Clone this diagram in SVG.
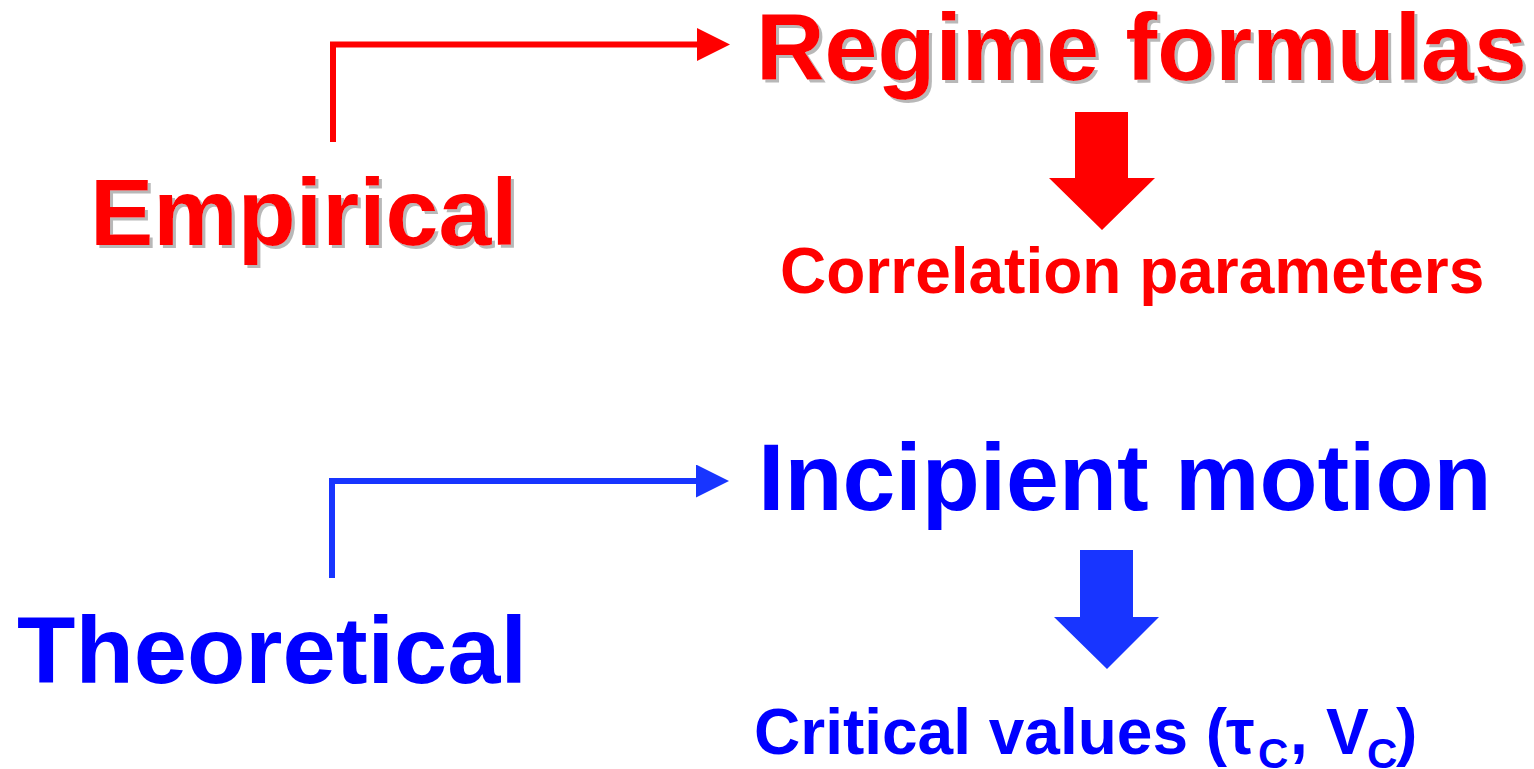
<svg xmlns="http://www.w3.org/2000/svg" width="1534" height="769" viewBox="0 0 1534 769">
<style>
.t{font-family:"Liberation Sans",Arial,sans-serif;font-weight:bold}
.red{fill:#FF0000}
.blue{fill:#0000FF}
.big{font-size:95px}
.mid{font-size:64px}
.sub{font-size:42px}
.cr{fill:none;stroke:#FF0000;stroke-width:6}
.cb{fill:none;stroke:#1835FF;stroke-width:6}
</style>
<defs>
<filter id="sh" x="-5%" y="-20%" width="115%" height="150%">
<feDropShadow dx="3" dy="3" stdDeviation="0.6" flood-color="#9a9a9a" flood-opacity="0.7"/>
</filter>
<marker id="ar" markerUnits="userSpaceOnUse" markerWidth="34" markerHeight="34" refX="0" refY="16.5" orient="auto" viewBox="0 0 34 34">
<path d="M0,0 L33,16.5 L0,33 z" fill="#FF0000"/>
</marker>
<marker id="ab" markerUnits="userSpaceOnUse" markerWidth="34" markerHeight="34" refX="0" refY="16.5" orient="auto" viewBox="0 0 34 34">
<path d="M0,0 L33,16.5 L0,33 z" fill="#1835FF"/>
</marker>
</defs>
<g id="connectors">
<path class="cr" d="M333,142 V44.5 H697" marker-end="url(#ar)"/>
<path class="cb" d="M332,578 V481 H696" marker-end="url(#ab)"/>
<polygon fill="#FF0000" points="1075,112 1128,112 1128,178 1155,178 1102,230 1049,178 1075,178"/>
<polygon fill="#1835FF" points="1080,550 1133,550 1133,617 1159,617 1107,669 1054,617 1080,617"/>
</g>
<g id="empirical"><text class="t red big" x="90" y="245" filter="url(#sh)">Empirical</text></g>
<g id="regime"><text class="t red big" x="756" y="80" filter="url(#sh)">Regime formulas</text></g>
<g id="correlation"><text class="t red mid" x="780" y="293">Correlation parameters</text></g>
<g id="theoretical"><text class="t blue big" x="17" y="683" textLength="510" lengthAdjust="spacingAndGlyphs">Theoretical</text></g>
<g id="incipient"><text class="t blue big" x="758" y="510">Incipient motion</text></g>
<g id="critical"><text class="t blue mid" x="754" y="754">Critical values (<tspan x="1226">τ</tspan><tspan class="sub" x="1258" y="768">C</tspan><tspan x="1290" y="754">,</tspan><tspan x="1326">V</tspan><tspan class="sub" x="1367" y="768">C</tspan><tspan x="1396" y="754">)</tspan></text></g>
</svg>
